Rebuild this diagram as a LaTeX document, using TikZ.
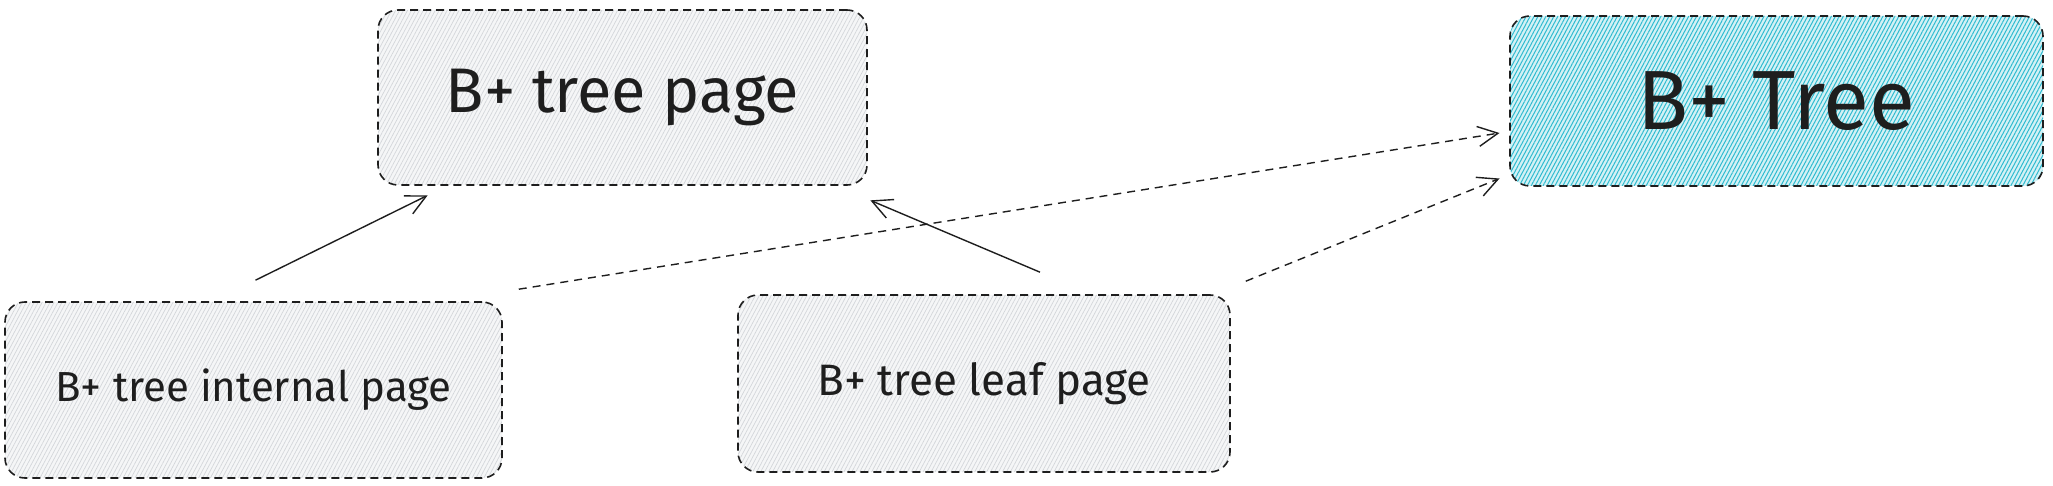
\documentclass[tikz,border=0pt]{standalone}
\usepackage{fontspec}
\setmainfont{Fira Sans}
\usetikzlibrary{arrows.meta,patterns.meta}
\definecolor{ink}{HTML}{1E1E1E}
\definecolor{grayfill}{HTML}{F5F6F7}
\definecolor{grayhatch}{HTML}{D3D6DA}
\definecolor{cyanfill}{HTML}{D4F1F5}
\definecolor{cyanhatch}{HTML}{2FBBD0}
\tikzset{
  box/.style={draw=ink, line width=1.6pt, dash pattern=on 8pt off 5pt,
    rounded corners=20pt, inner sep=0pt, text=ink},
  grayhatched/.style={preaction={fill=grayfill},
    pattern={Lines[angle=62,distance=3.5pt,line width=0.7pt]}, pattern color=grayhatch},
  cyanhatched/.style={preaction={fill=cyanfill},
    pattern={Lines[angle=62,distance=3.5pt,line width=1pt]}, pattern color=cyanhatch},
  link/.style={draw=ink, line width=1.4pt, -{Straight Barb[length=20pt,width=20pt,line width=1.4pt]}},
  dlink/.style={link, dash pattern=on 8pt off 6pt},
}
\begin{document}
\begin{tikzpicture}[x=1pt,y=-1pt]
\useasboundingbox (0,0) rectangle (2053,486);
\node[box, grayhatched, minimum width=489pt, minimum height=175pt, font=\fontsize{63}{70}\selectfont] (pg) at (622.5,97.5) {B+ tree page};
\node[box, grayhatched, minimum width=497pt, minimum height=176pt, font=\fontsize{42}{48}\selectfont] (int) at (253.5,390) {B+ tree internal page};
\node[box, grayhatched, minimum width=492pt, minimum height=177pt, font=\fontsize{44}{50}\selectfont] (leaf) at (984,383.5) {B+ tree leaf page};
\node[box, cyanhatched, minimum width=533pt, minimum height=170pt, font=\fontsize{84}{90}\selectfont] (bt) at (1776.5,101) {B+ Tree};
\draw[link] ([shift={(2,-21)}]int.north) -- ([shift={(50,10)}]pg.south west);
\draw[link] ([shift={(56,-22)}]leaf.north) -- ([shift={(3,15)}]pg.south east);
\draw[dlink] ([shift={(16,-12)}]int.north east) -- ([shift={(-10,32)}]bt.west);
\draw[dlink] ([shift={(15,-13)}]leaf.north east) -- ([shift={(-10,-8)}]bt.south west);
\end{tikzpicture}
\end{document}
